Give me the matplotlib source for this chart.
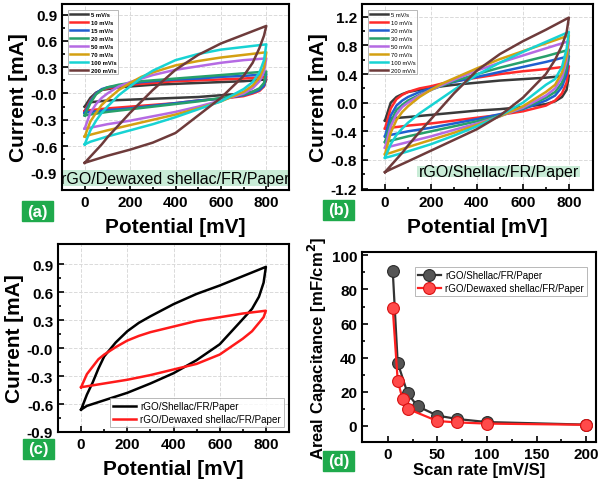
import numpy as np
import matplotlib
matplotlib.use("Agg")
import matplotlib.pyplot as plt
from matplotlib.patches import Rectangle

plt.rcParams['font.family'] = ['Liberation Sans', 'DejaVu Sans']

# potential grids for the forward (up) and reverse (down) sweeps, mV
v_fwd = [0, 25, 50, 75, 100, 150, 200, 250, 300, 400, 500, 600, 700, 800]
v_rev = [800, 790, 770, 740, 700, 600, 500, 400, 300, 200, 100, 25, 0]

# (a) rGO/Dewaxed shellac/FR/Paper, current in mA
rates_a = ['5 mV/s', '10 mV/s', '15 mV/s', '20 mV/s', '50 mV/s', '70 mV/s', '100 mV/s', '200 mV/s']
fwd_a = [
    [-0.15, -0.05, 0.01, 0.04, 0.05, 0.07, 0.08, 0.09, 0.10, 0.11, 0.12, 0.13, 0.14, 0.16],
    [-0.20, -0.08, 0.00, 0.04, 0.06, 0.08, 0.10, 0.11, 0.12, 0.14, 0.15, 0.16, 0.17, 0.19],
    [-0.22, -0.09, 0.00, 0.05, 0.07, 0.09, 0.11, 0.13, 0.14, 0.16, 0.17, 0.19, 0.20, 0.22],
    [-0.25, -0.11, -0.01, 0.04, 0.07, 0.10, 0.12, 0.14, 0.15, 0.17, 0.19, 0.21, 0.23, 0.25],
    [-0.40, -0.22, -0.12, -0.05, 0.00, 0.08, 0.13, 0.17, 0.21, 0.27, 0.31, 0.35, 0.38, 0.40],
    [-0.49, -0.32, -0.22, -0.13, -0.07, 0.04, 0.12, 0.19, 0.24, 0.32, 0.37, 0.41, 0.44, 0.47],
    [-0.58, -0.42, -0.31, -0.22, -0.15, -0.02, 0.08, 0.18, 0.26, 0.38, 0.45, 0.50, 0.53, 0.56],
    [-0.79, -0.72, -0.65, -0.58, -0.50, -0.36, -0.22, -0.09, 0.04, 0.27, 0.44, 0.57, 0.67, 0.77],
]
rev_a = [
    [0.16, 0.09, 0.05, 0.02, 0.00, -0.02, -0.04, -0.05, -0.06, -0.07, -0.08, -0.10, -0.15],
    [0.19, 0.08, 0.03, 0.00, -0.03, -0.06, -0.08, -0.11, -0.13, -0.15, -0.17, -0.19, -0.20],
    [0.22, 0.09, 0.04, 0.01, -0.02, -0.06, -0.08, -0.11, -0.14, -0.17, -0.19, -0.21, -0.22],
    [0.25, 0.12, 0.06, 0.02, -0.01, -0.05, -0.09, -0.12, -0.15, -0.18, -0.21, -0.24, -0.25],
    [0.40, 0.25, 0.14, 0.06, 0.00, -0.08, -0.15, -0.21, -0.26, -0.31, -0.35, -0.39, -0.40],
    [0.47, 0.30, 0.18, 0.09, 0.02, -0.09, -0.17, -0.24, -0.30, -0.36, -0.42, -0.47, -0.49],
    [0.56, 0.38, 0.24, 0.13, 0.05, -0.09, -0.18, -0.27, -0.35, -0.42, -0.49, -0.55, -0.58],
    [0.77, 0.66, 0.52, 0.35, 0.20, -0.05, -0.25, -0.45, -0.56, -0.64, -0.71, -0.77, -0.79],
]

# (b) rGO/Shellac/FR/Paper
rates_b = ['5 mV/s', '10 mV/s', '20 mV/s', '30 mV/s', '50 mV/s', '70 mV/s', '100 mV/s', '200 mV/s']
fwd_b = [
    [-0.25, 0.00, 0.08, 0.12, 0.15, 0.18, 0.21, 0.23, 0.25, 0.28, 0.31, 0.33, 0.35, 0.38],
    [-0.36, -0.08, 0.05, 0.11, 0.15, 0.20, 0.23, 0.27, 0.30, 0.35, 0.40, 0.44, 0.47, 0.51],
    [-0.47, -0.18, -0.04, 0.03, 0.08, 0.15, 0.20, 0.25, 0.29, 0.36, 0.43, 0.50, 0.57, 0.65],
    [-0.55, -0.27, -0.10, -0.03, 0.03, 0.11, 0.18, 0.24, 0.30, 0.40, 0.49, 0.57, 0.65, 0.74],
    [-0.63, -0.33, -0.16, -0.06, 0.00, 0.10, 0.18, 0.25, 0.32, 0.45, 0.56, 0.66, 0.76, 0.86],
    [-0.72, -0.42, -0.24, -0.13, -0.05, 0.08, 0.18, 0.27, 0.34, 0.48, 0.61, 0.72, 0.83, 0.94],
    [-0.77, -0.58, -0.45, -0.36, -0.28, -0.15, -0.04, 0.07, 0.18, 0.39, 0.56, 0.71, 0.85, 0.99],
    [-0.97, -0.88, -0.79, -0.70, -0.60, -0.41, -0.23, -0.05, 0.13, 0.45, 0.68, 0.86, 1.02, 1.19],
]
rev_b = [
    [0.38, 0.18, 0.08, 0.02, -0.02, -0.06, -0.09, -0.11, -0.14, -0.17, -0.20, -0.22, -0.25],
    [0.51, 0.28, 0.13, 0.03, -0.04, -0.12, -0.17, -0.21, -0.25, -0.29, -0.32, -0.35, -0.36],
    [0.65, 0.40, 0.22, 0.10, 0.03, -0.09, -0.16, -0.23, -0.29, -0.35, -0.40, -0.45, -0.47],
    [0.74, 0.48, 0.28, 0.15, 0.07, -0.08, -0.18, -0.26, -0.33, -0.40, -0.47, -0.53, -0.55],
    [0.86, 0.58, 0.35, 0.20, 0.10, -0.07, -0.19, -0.29, -0.38, -0.47, -0.55, -0.61, -0.63],
    [0.94, 0.65, 0.42, 0.25, 0.15, -0.05, -0.19, -0.31, -0.42, -0.52, -0.62, -0.70, -0.72],
    [0.99, 0.75, 0.50, 0.33, 0.25, 0.00, -0.18, -0.33, -0.46, -0.58, -0.68, -0.75, -0.77],
    [1.19, 0.98, 0.80, 0.60, 0.40, 0.07, -0.18, -0.37, -0.52, -0.67, -0.82, -0.93, -0.97],
]

# (c) comparison of the two electrodes
names_c = ['rGO/Shellac/FR/Paper', 'rGO/Dewaxed shellac/FR/Paper']
fwd_c = [
    [-0.66, -0.50, -0.37, -0.22, -0.09, 0.06, 0.18, 0.27, 0.34, 0.47, 0.58, 0.67, 0.77, 0.87],
    [-0.42, -0.28, -0.20, -0.12, -0.07, 0.01, 0.08, 0.13, 0.17, 0.23, 0.29, 0.33, 0.37, 0.40],
]
rev_c = [
    [0.87, 0.70, 0.55, 0.42, 0.31, 0.04, -0.13, -0.27, -0.38, -0.48, -0.56, -0.62, -0.66],
    [0.40, 0.33, 0.27, 0.18, 0.10, -0.07, -0.17, -0.23, -0.29, -0.34, -0.38, -0.41, -0.42],
]

# (d) areal capacitance vs scan rate
rate_shellac = [5, 10, 20, 30, 50, 70, 100, 200]
cap_shellac = [91, 37, 19, 11.5, 6, 4, 2.2, 0.7]
rate_dewaxed = [5, 10, 15, 20, 50, 70, 100, 200]
cap_dewaxed = [69, 26.5, 15.5, 10, 2.8, 2, 1.3, 0.6]

cv_colors = ['#3a3a3a', '#ff2a2a', '#1f5fd0', '#27a06b', '#b56ae3', '#d4a012', '#17d3d3', '#6e3b3b']
band_col = '#c9ecd7'
tag_col = '#1faa4c'


def style_ax(ax, fs=11):
    for s in ax.spines.values():
        s.set_linewidth(1.5)
    ax.tick_params(which='both', direction='in', width=1.2, labelsize=fs)
    ax.tick_params(which='major', length=4)
    ax.tick_params(which='minor', length=2)
    for lab in ax.get_xticklabels() + ax.get_yticklabels():
        lab.set_fontweight('bold')
    ax.grid(True, color='#dadada', ls='--', lw=0.7)
    ax.set_axisbelow(True)


def tag(fig, x, y, text):
    fig.patches.append(Rectangle((x / 600, 1 - (y + 20) / 485), 31 / 600, 20 / 485,
                                 transform=fig.transFigure, color=tag_col, zorder=5))
    fig.text((x + 15.5) / 600, 1 - (y + 10) / 485, text, color='white', fontsize=12,
             fontweight='bold', ha='center', va='center', zorder=6)


def cv_axes(ax):
    ax.set_xticks([0, 200, 400, 600, 800])
    ax.set_xticks(np.arange(0, 900, 100), minor=True)
    ax.yaxis.set_major_formatter(matplotlib.ticker.FormatStrFormatter('%.1f'))
    style_ax(ax)
    ax.set_xlabel('Potential [mV]', fontsize=15, fontweight='bold', labelpad=6)
    ax.set_ylabel('Current [mA]', fontsize=15, fontweight='bold', labelpad=2)


fig = plt.figure(figsize=(6, 4.85), dpi=100)

# ---- (a)
ax = fig.add_axes([62 / 600, 1 - 191 / 485, 227 / 600, 186 / 485])
for i in range(8):
    ax.plot(v_fwd + v_rev, fwd_a[i] + rev_a[i], color=cv_colors[i], lw=1.8, label=rates_a[i])
ax.axhspan(-1.06, -0.87, color=band_col, zorder=1.5, lw=0)
ax.text(400, -0.965, 'rGO/Dewaxed shellac/FR/Paper', ha='center', va='center', fontsize=11.5, zorder=3)
ax.set_xlim(-100, 900)
ax.set_ylim(-1.1, 1.02)
ax.set_yticks(np.arange(-0.9, 0.91, 0.3))
ax.set_yticks(np.arange(-0.9, 0.91, 0.15), minor=True)
cv_axes(ax)
leg = ax.legend(loc='upper left', prop={'weight': 'bold', 'size': 4.2}, frameon=True,
                fancybox=False, edgecolor='#999999', handlelength=3.2, labelspacing=0.5,
                borderaxespad=1.0, handletextpad=0.4, borderpad=0.3)
leg.get_frame().set_linewidth(0.6)
tag(fig, 22, 202, '(a)')

# ---- (b)
ax = fig.add_axes([362 / 600, 1 - 191 / 485, 231 / 600, 186 / 485])
for i in range(8):
    ax.plot(v_fwd + v_rev, fwd_b[i] + rev_b[i], color=cv_colors[i], lw=1.8, label=rates_b[i])
ax.add_patch(Rectangle((141, -1.04), 708, 0.155, color=band_col, zorder=1.5, lw=0))
ax.text(495, -0.962, 'rGO/Shellac/FR/Paper', ha='center', va='center', fontsize=11.5, zorder=3)
ax.set_xlim(-100, 905)
ax.set_ylim(-1.22, 1.38)
ax.set_yticks(np.arange(-1.2, 1.21, 0.4))
ax.set_yticks(np.arange(-1.2, 1.21, 0.2), minor=True)
cv_axes(ax)
leg = ax.legend(loc='upper left', prop={'size': 4.2}, frameon=True,
                fancybox=False, edgecolor='#999999', handlelength=3.2, labelspacing=0.5,
                borderaxespad=1.0, handletextpad=0.4, borderpad=0.3)
leg.get_frame().set_linewidth(0.6)
tag(fig, 323, 201, '(b)')

# ---- (c)
ax = fig.add_axes([58 / 600, 1 - 433 / 485, 231 / 600, 188 / 485])
for i, col in enumerate(['black', '#ff1a1a']):
    ax.plot(v_fwd + v_rev, fwd_c[i] + rev_c[i], color=col, lw=1.8, label=names_c[i])
ax.set_xlim(-100, 900)
ax.set_ylim(-0.9, 1.115)
ax.set_yticks(np.arange(-0.9, 0.91, 0.3))
ax.set_yticks(np.arange(-0.9, 0.91, 0.15), minor=True)
cv_axes(ax)
leg = ax.legend(loc='lower right', fontsize=7.1, frameon=True, fancybox=False,
                edgecolor='#999999', handlelength=2.4, labelspacing=0.3,
                borderaxespad=0.5, handletextpad=0.4, borderpad=0.3)
leg.get_frame().set_linewidth(0.6)
tag(fig, 23, 440, '(c)')

# ---- (d)
ax = fig.add_axes([362 / 600, 1 - 443 / 485, 234 / 600, 190 / 485])
ax.plot(rate_shellac, cap_shellac, '-o', color='#333333', lw=1.6, ms=8.5,
        mfc='#555555', mec='#2a2a2a', mew=0.8, label='rGO/Shellac/FR/Paper')
ax.plot(rate_dewaxed, cap_dewaxed, '-o', color='#ff2020', lw=1.6, ms=8.5,
        mfc='#ff4a4a', mec='#d81010', mew=0.8, label='rGO/Dewaxed shellac/FR/Paper')
ax.set_xlim(-26, 210)
ax.set_ylim(-9.5, 102)
ax.set_xticks([0, 50, 100, 150, 200])
ax.set_xticks(np.arange(0, 201, 25), minor=True)
ax.set_yticks(np.arange(0, 101, 20))
ax.set_yticks(np.arange(0, 101, 10), minor=True)
style_ax(ax, fs=11)
ax.grid(False)
ax.set_xlabel('Scan rate [mV/S]', fontsize=12, fontweight='bold', labelpad=1)
ax.set_ylabel('Areal Capacitance [mF/cm$^\\mathbf{2}$]', fontsize=12, fontweight='bold', labelpad=2)
leg = ax.legend(loc='upper right', fontsize=7, frameon=True, fancybox=False,
                edgecolor='#999999', handlelength=2.4, labelspacing=0.3,
                borderaxespad=0.6, handletextpad=0.4, borderpad=0.3,
                bbox_to_anchor=(0.985, 0.95))
leg.get_frame().set_linewidth(0.6)
tag(fig, 323, 452, '(d)')

fig.savefig('out.png', dpi=100)
